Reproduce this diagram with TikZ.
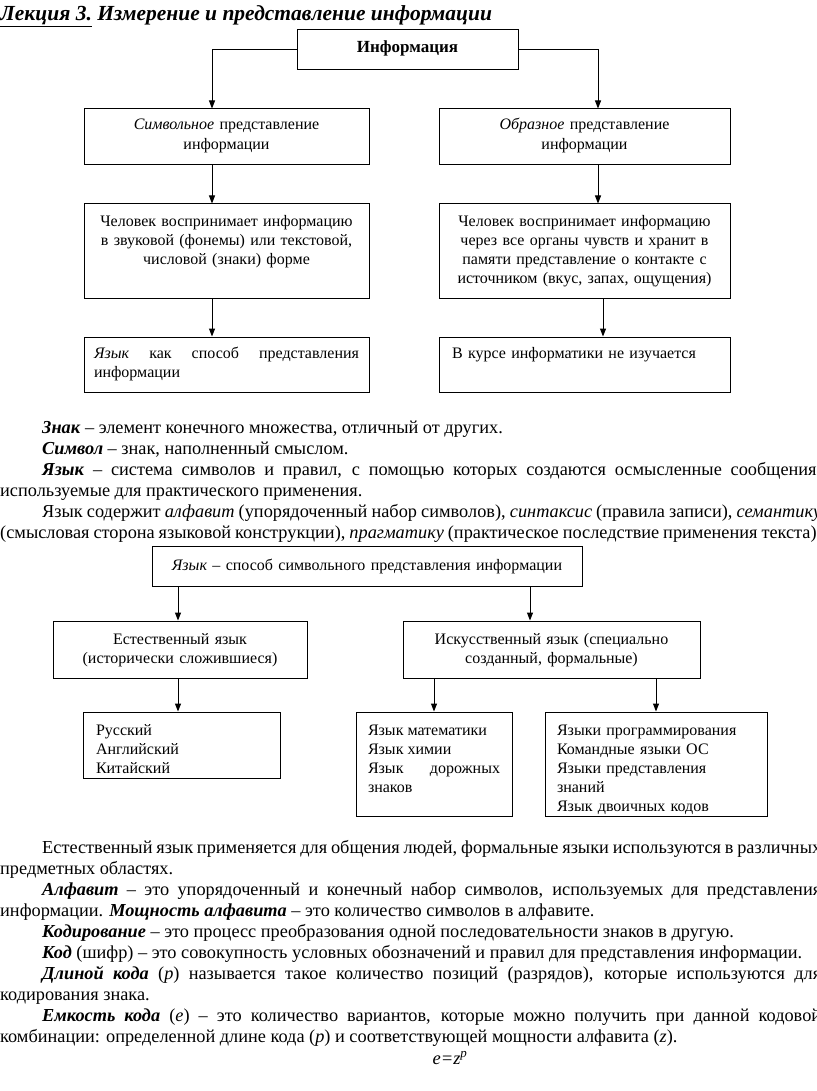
\documentclass[tikz,border=0pt]{standalone}
\usepackage{fontspec}
\setmainfont{Liberation Serif}
\usetikzlibrary{arrows.meta,positioning}

\newcommand{\term}[1]{\textbf{\textit{#1}}}
\newcommand{\ind}{\hspace*{42pt}}
\newcommand{\bodyfont}{\fontsize{18.3}{21.1}\selectfont\spaceskip=.25em plus .3em minus .12em\relax}

\tikzset{
  blk/.style={draw,line width=1pt,inner xsep=10pt,inner ysep=0pt,font=\fontsize{16}{19.2}\selectfont},
  bodytxt/.style={anchor=base west,inner sep=0pt,text width=821pt,align=justify,font=\bodyfont}
}

\begin{document}
\begin{tikzpicture}[x=1pt,y=-1pt,>={Triangle[length=8pt,width=6pt]}]
\path[use as bounding box,fill=white] (0,0) rectangle (816,1091);

\node[anchor=base west,inner sep=0pt,font=\fontsize{21.5}{24}\selectfont\bfseries\itshape] (title) at (0,21) {\underline{Лекция 3.} Измерение и представление информации};

% first scheme
\node[blk,text width=201pt,text height=23pt,text depth=17pt,align=center,font=\fontsize{17}{20}\selectfont\bfseries] (info) at (407.5,50) {Информация};
\node[blk,text width=265pt,text height=21pt,text depth=35pt,align=center] (symb) at (226.5,137) {\textit{Символьное} представление\\информации};
\node[blk,text width=271pt,text height=21pt,text depth=35pt,align=center] (obraz) at (584.5,137) {\textit{Образное} представление\\информации};
\node[blk,text width=265pt,text height=22pt,text depth=72pt,align=center] (hum1) at (226.5,251) {Человек воспринимает информацию\\в звуковой (фонемы) или текстовой,\\числовой (знаки) форме};
\node[blk,text width=271pt,text height=22pt,text depth=72pt,align=center] (hum2) at (584.5,251) {Человек воспринимает информацию\\через все органы чувств и хранит в\\памяти представление о контакте с\\источником (вкус, запах, ощущения)};
\node[blk,text width=265pt,text height=21pt,text depth=34pt,align=justify] (lang1) at (226.5,364.5) {\textit{Язык} как способ представления\linebreak информации};
\node[blk,text width=265pt,inner xsep=13pt,text height=21pt,text depth=34pt,align=left] (noinf) at (584.5,364.5) {В курсе информатики не изучается};

\draw[->,line width=1pt] (info.west) -| ([xshift=-14.5pt]symb.north);
\draw[->,line width=1pt] (info.east) -| ([xshift=13.5pt]obraz.north);
\draw[->,line width=1pt] ([xshift=-14.5pt]symb.south) -- ([xshift=-14.5pt]hum1.north);
\draw[->,line width=1pt] ([xshift=13.5pt]obraz.south) -- ([xshift=13.5pt]hum2.north);
\draw[->,line width=1pt] ([xshift=-14.5pt]hum1.south) -- ([xshift=-14.5pt]lang1.north);
\draw[->,line width=1pt] ([xshift=18.5pt]hum2.south) -- ([xshift=18.5pt]noinf.north);

% definitions
\node[bodytxt] (znak) at (0,433) {\ind\term{Знак} – элемент конечного множества, отличный от других.};
\node[bodytxt] (simv) at (0,454) {\ind\term{Символ} – знак, наполненный смыслом.};
\node[bodytxt] (yaz) at (0,475) {\ind\term{Язык} – система символов и правил, с помощью которых создаются осмысленные сообщения,\linebreak используемые для практического применения.};
\node[bodytxt] (sost) at (0,517) {\ind Язык содержит \textit{алфавит} (упорядоченный набор символов), \textit{синтаксис} (правила записи), \textit{семантику}\linebreak (смысловая сторона языковой конструкции), \textit{прагматику} (практическое последствие применения текста).};

% second scheme
\node[blk,text width=410pt,text height=24pt,text depth=16pt,align=center] (lang) at (367,566) {\textit{Язык} – способ символьного представления информации};
\node[blk,text width=234pt,text height=23pt,text depth=34pt,align=center] (nat) at (180,649.5) {Естественный язык\\(исторически сложившиеся)};
\node[blk,text width=277pt,text height=23pt,text depth=34pt,align=center] (art) at (551.5,649.5) {Искусственный язык (специально\\созданный, формальные)};
\node[blk,inner xsep=13pt,text width=171pt,text height=23pt,text depth=43pt,align=left] (rus) at (181.5,745) {Русский\\Английский\\Китайский};
\node[blk,inner xsep=12pt,text width=132pt,text height=23pt,text depth=81pt,align=justify] (math) at (434,764) {Язык математики\\Язык химии\\Язык дорожных\linebreak знаков};
\node[blk,inner xsep=12pt,text width=198pt,text height=23pt,text depth=81pt,align=left] (prog) at (656,764) {Языки программирования\\Командные языки ОС\\Языки представления\\знаний\\Язык двоичных кодов};

\draw[->,line width=1pt] ([xshift=-2pt]nat.north |- lang.south) -- ([xshift=-2pt]nat.north);
\draw[->,line width=1pt] ([xshift=-21.5pt]art.north |- lang.south) -- ([xshift=-21.5pt]art.north);
\draw[->,line width=1pt] ([xshift=-3.5pt]rus.north |- nat.south) -- ([xshift=-3.5pt]rus.north);
\draw[->,line width=1pt] (math.north |- art.south) -- (math.north);
\draw[->,line width=1pt] (prog.north |- art.south) -- (prog.north);

% more definitions
\node[bodytxt] (estl) at (0,853) {\ind Естественный язык применяется для общения людей, формальные языки используются в различных\linebreak предметных областях.};
\node[bodytxt] (alf) at (0,895) {\ind\term{Алфавит} – это упорядоченный и конечный набор символов, используемых для представления\linebreak информации. \term{Мощность алфавита} – это количество символов в алфавите.};
\node[bodytxt] (kodir) at (0,937) {\ind\term{Кодирование} – это процесс преобразования одной последовательности знаков в другую.};
\node[bodytxt] (kod) at (0,958) {\ind\term{Код} (шифр) – это совокупность условных обозначений и правил для представления информации.};
\node[bodytxt] (dlin) at (0,979) {\ind\term{Длиной кода} (\textit{p}) называется такое количество позиций (разрядов), которые используются для\linebreak кодирования знака.};
\node[bodytxt] (emk) at (0,1021) {\ind\term{Емкость кода} (\textit{e}) – это количество вариантов, которые можно получить при данной кодовой\linebreak комбинации: определенной длине кода (\textit{p}) и соответствующей мощности алфавита (\textit{z}).};
\node[anchor=base,inner sep=0pt,font=\fontsize{18.5}{21.1}\selectfont\itshape] (form) at (450,1064) {e=z\textsuperscript{p}};
\end{tikzpicture}
\end{document}
